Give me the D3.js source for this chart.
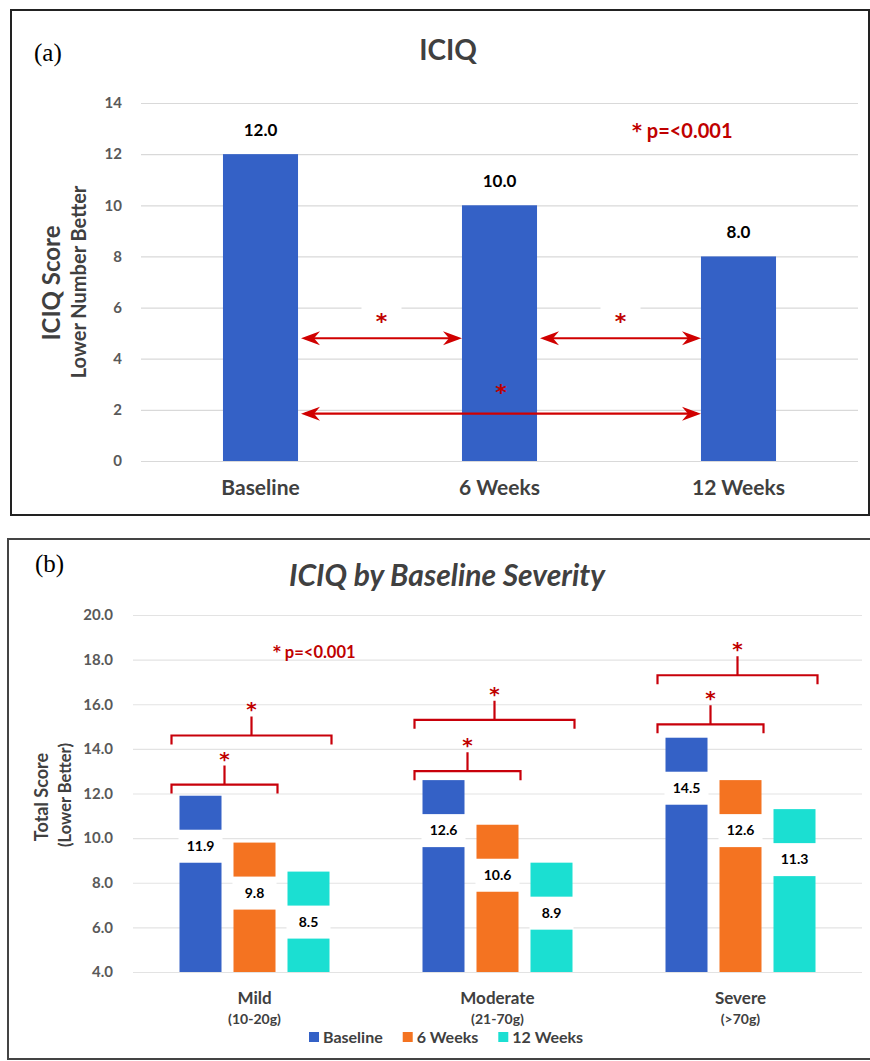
<!DOCTYPE html>
<html>
<head>
<meta charset="utf-8">
<script src="https://cdn.jsdelivr.net/npm/d3@7"></script>
<style>
  body { margin: 0; background: #fff; }
  text { font-family: Lato, "Open Sans", sans-serif; }
  .star { font-family: "DejaVu Sans", sans-serif; font-weight: bold; }
</style>
</head>
<body>
<div id="chart"></div>
<script>
// panel (a) data
const catsA = ["Baseline", "6 Weeks", "12 Weeks"]
const valsA = [12.0, 10.0, 8.0]
const ticksA = [0, 2, 4, 6, 8, 10, 12, 14]
const arrowsA = [
  {from: "Baseline", to: "6 Weeks", y: 4.8, star: 5.6},
  {from: "6 Weeks", to: "12 Weeks", y: 4.8, star: 5.6},
  {from: "Baseline", to: "12 Weeks", y: 1.85, star: 2.8}
]

// panel (b) data
const groupsB = ["Mild", "Moderate", "Severe"]
const rangesB = ["(10-20g)", "(21-70g)", "(>70g)"]
const seriesB = ["Baseline", "6 Weeks", "12 Weeks"]
const baselineB = [11.9, 12.6, 14.5]
const weeks6B = [9.8, 10.6, 12.6]
const weeks12B = [8.5, 8.9, 11.3]
const ticksB = [4, 6, 8, 10, 12, 14, 16, 18, 20]
const bracketsB = [
  {group: "Mild", to: "6 Weeks", y: 12.4},
  {group: "Mild", to: "12 Weeks", y: 14.6},
  {group: "Moderate", to: "6 Weeks", y: 13.0},
  {group: "Moderate", to: "12 Weeks", y: 15.3},
  {group: "Severe", to: "6 Weeks", y: 15.1},
  {group: "Severe", to: "12 Weeks", y: 17.3}
]
const colorsB = {"Baseline": "#3461c6", "6 Weeks": "#f47321", "12 Weeks": "#1bdfd2"}

const RED = "#c00000"
const GRID = "#d9d9d9"
const GRAY = "#404040"

let svg = d3.select("#chart").append("svg")
  .attr("width", 870)
  .attr("height", 1061)

// ---------- panel (a) ----------
let a = svg.append("g")

a.append("rect")
  .attr("x", 11).attr("y", 10).attr("width", 858).attr("height", 505)
  .attr("fill", "none").attr("stroke", "#222").attr("stroke-width", 2)

let xA = d3.scaleBand().domain(catsA).range([141, 858])
  .paddingInner(0.686).paddingOuter(0.343)
let yA = d3.scaleLinear().domain([0, 14]).range([461, 103])

a.append("g")
  .attr("transform", "translate(141,0)")
  .call(d3.axisLeft(yA).tickValues(ticksA).tickSize(-(858 - 141)).tickPadding(19))
  .call(g => g.select(".domain").remove())
  .call(g => g.selectAll(".tick line").attr("stroke", GRID).attr("stroke-width", 1.2))
  .call(g => g.selectAll(".tick text").attr("fill", "#595959")
    .style("font-size", "15px").style("font-weight", "bold"))

a.append("g")
  .attr("transform", "translate(0,461)")
  .call(d3.axisBottom(xA).tickSize(0).tickPadding(19))
  .call(g => g.select(".domain").remove())
  .call(g => g.selectAll(".tick text").attr("fill", GRAY)
    .style("font-size", "21px").style("font-weight", "bold"))

a.selectAll("rect.bar")
  .data(valsA)
  .enter().append("rect")
  .attr("class", "bar")
  .attr("x", (d, i) => xA(catsA[i]))
  .attr("y", d => yA(d))
  .attr("width", xA.bandwidth())
  .attr("height", d => yA(0) - yA(d))
  .attr("fill", "#3461c6")

a.selectAll("text.val")
  .data(valsA)
  .enter().append("text")
  .attr("class", "val")
  .attr("x", (d, i) => xA(catsA[i]) + xA.bandwidth() / 2)
  .attr("y", d => yA(d) - 18)
  .attr("text-anchor", "middle")
  .style("font-size", "17px").style("font-weight", "bold")
  .text(d => d.toFixed(1))

a.append("text")
  .attr("x", 448).attr("y", 60)
  .attr("text-anchor", "middle").attr("fill", GRAY)
  .style("font-size", "28px").style("font-weight", "bold")
  .text("ICIQ")

a.append("text")
  .attr("x", 34).attr("y", 61)
  .style("font-family", "'Liberation Serif', 'DejaVu Serif', serif")
  .style("font-size", "25px")
  .text("(a)")

let pA = a.append("text")
  .attr("x", 632).attr("y", 138)
  .attr("fill", RED)
  .style("font-size", "20px").style("font-weight", "bold")
pA.append("tspan").attr("class", "star").style("font-size", "19px").attr("dy", -1).text("*")
pA.append("tspan").attr("dy", 1).text(" p=<0.001")

a.append("text")
  .attr("transform", "translate(60,283) rotate(-90)")
  .attr("text-anchor", "middle").attr("fill", GRAY)
  .style("font-size", "24px").style("font-weight", "bold")
  .text("ICIQ Score")

a.append("text")
  .attr("transform", "translate(86,282) rotate(-90)")
  .attr("text-anchor", "middle").attr("fill", GRAY)
  .style("font-size", "20px").style("font-weight", "bold")
  .text("Lower Number Better")

// arrows
function head(x, y, dir) {
  return `M${x},${y} L${x + dir * 19},${y - 7} L${x + dir * 13},${y} L${x + dir * 19},${y + 7} Z`
}
let arr = a.selectAll("g.arrow")
  .data(arrowsA)
  .enter().append("g")
  .attr("class", "arrow")

arr.each(function(d) {
  let g = d3.select(this)
  let x0 = xA(d.from) + xA.bandwidth() + 3
  let x1 = xA(d.to)
  let y = yA(d.y)
  let sx = (x0 + x1) / 2
  if (!(d.from === "Baseline" && d.to === "12 Weeks")) {
    g.append("rect")
      .attr("x", sx - 20).attr("y", yA(d.star) - 14)
      .attr("width", 40).attr("height", 24).attr("fill", "#fff")
  }
  g.append("line")
    .attr("x1", x0 + 4).attr("x2", x1 - 4)
    .attr("y1", y).attr("y2", y)
    .attr("stroke", "#d00000").attr("stroke-width", 2.2)
  g.append("path").attr("d", head(x0, y, 1)).attr("fill", "#d00000")
  g.append("path").attr("d", head(x1, y, -1)).attr("fill", "#d00000")
  g.append("text")
    .attr("class", "star")
    .attr("x", sx).attr("y", yA(d.star) + 11)
    .attr("text-anchor", "middle").attr("fill", RED)
    .style("font-size", "22px")
    .text("*")
})

// ---------- panel (b) ----------
let b = svg.append("g")

b.append("rect")
  .attr("x", 8).attr("y", 539).attr("width", 870).attr("height", 520)
  .attr("fill", "none").attr("stroke", "#444").attr("stroke-width", 2)

let xB0 = d3.scaleBand().domain(groupsB).range([133, 862])
let xB1 = d3.scaleBand().domain(seriesB).range([0, 150]).paddingInner(12 / 54).paddingOuter(0)
let yB = d3.scaleLinear().domain([4, 20]).range([972, 615])
let groupX = g => xB0(g) + xB0.bandwidth() / 2 - 75

b.append("g")
  .attr("transform", "translate(133,0)")
  .call(d3.axisLeft(yB).tickValues(ticksB).tickFormat(d3.format(".1f"))
    .tickSize(-(862 - 133)).tickPadding(20))
  .call(g => g.select(".domain").remove())
  .call(g => g.selectAll(".tick line").attr("stroke", "#e3e3e3").attr("stroke-width", 1.2))
  .call(g => g.selectAll(".tick text").attr("fill", "#595959")
    .style("font-size", "15px").style("font-weight", "bold"))

b.append("g")
  .attr("transform", "translate(0,972)")
  .call(d3.axisBottom(xB0).tickSize(0).tickPadding(20))
  .call(g => g.select(".domain").remove())
  .call(g => g.selectAll(".tick text").attr("fill", GRAY)
    .style("font-size", "17px").style("font-weight", "bold"))

b.selectAll("text.range")
  .data(rangesB)
  .enter().append("text")
  .attr("class", "range")
  .attr("x", (d, i) => xB0(groupsB[i]) + xB0.bandwidth() / 2)
  .attr("y", 1024)
  .attr("text-anchor", "middle").attr("fill", GRAY)
  .style("font-size", "14px").style("font-weight", "bold")
  .text(d => d)

let tableB = []
groupsB.forEach((g, i) => {
  tableB.push({group: g, series: "Baseline", value: baselineB[i]})
  tableB.push({group: g, series: "6 Weeks", value: weeks6B[i]})
  tableB.push({group: g, series: "12 Weeks", value: weeks12B[i]})
})

b.selectAll("rect.barb")
  .data(tableB)
  .enter().append("rect")
  .attr("class", "barb")
  .attr("x", d => groupX(d.group) + xB1(d.series))
  .attr("y", d => yB(d.value))
  .attr("width", xB1.bandwidth())
  .attr("height", d => yB(4) - yB(d.value))
  .attr("fill", d => colorsB[d.series])

// white label boxes cutting the bars
b.selectAll("rect.lbl")
  .data(tableB)
  .enter().append("rect")
  .attr("class", "lbl")
  .attr("x", d => groupX(d.group) + xB1(d.series) - 1)
  .attr("y", d => yB(d.value) + 34)
  .attr("width", xB1.bandwidth() + 2)
  .attr("height", 33)
  .attr("fill", "#fff")

b.selectAll("text.valb")
  .data(tableB)
  .enter().append("text")
  .attr("class", "valb")
  .attr("x", d => groupX(d.group) + xB1(d.series) + xB1.bandwidth() / 2)
  .attr("y", d => yB(d.value) + 55)
  .attr("text-anchor", "middle")
  .style("font-size", "14px").style("font-weight", "bold")
  .text(d => d.value.toFixed(1))

// brackets
let br = b.selectAll("g.bracket")
  .data(bracketsB)
  .enter().append("g")
  .attr("class", "bracket")

br.each(function(d) {
  let g = d3.select(this)
  let x0 = groupX(d.group) + xB1("Baseline") - 8
  let x1 = groupX(d.group) + xB1(d.to) + xB1.bandwidth() + 2
  let y = yB(d.y)
  let mx = (x0 + x1) / 2
  g.append("path")
    .attr("d", `M${x0},${y + 9} V${y} H${x1} V${y + 9} M${mx},${y} V${y - 19}`)
    .attr("fill", "none").attr("stroke", "#c8000a").attr("stroke-width", 2.2)
  g.append("text")
    .attr("class", "star")
    .attr("x", mx).attr("y", y - 19)
    .attr("text-anchor", "middle").attr("fill", RED)
    .style("font-size", "20px")
    .text("*")
})

let pB = b.append("text")
  .attr("x", 273).attr("y", 658)
  .attr("fill", RED)
  .style("font-size", "16.5px").style("font-weight", "bold")
pB.append("tspan").attr("class", "star").style("font-size", "15px").attr("dy", -1).text("*")
pB.append("tspan").attr("dy", 1).text(" p=<0.001")

b.append("text")
  .attr("x", 447).attr("y", 586)
  .attr("text-anchor", "middle").attr("fill", GRAY)
  .style("font-size", "30px").style("font-style", "italic").style("font-weight", "bold")
  .text("ICIQ by Baseline Severity")

b.append("text")
  .attr("x", 35).attr("y", 572)
  .style("font-family", "'Liberation Serif', 'DejaVu Serif', serif")
  .style("font-size", "25px")
  .text("(b)")

b.append("text")
  .attr("transform", "translate(48,797) rotate(-90)")
  .attr("text-anchor", "middle").attr("fill", GRAY)
  .style("font-size", "18px").style("font-weight", "bold")
  .text("Total Score")

b.append("text")
  .attr("transform", "translate(71,795) rotate(-90)")
  .attr("text-anchor", "middle").attr("fill", GRAY)
  .style("font-size", "16.5px").style("font-weight", "bold")
  .text("(Lower Better)")

// legend
let lx = 309
seriesB.forEach(s => {
  b.append("rect")
    .attr("x", lx).attr("y", 1032).attr("width", 10).attr("height", 10)
    .attr("fill", colorsB[s])
  let t = b.append("text")
    .attr("x", lx + 14).attr("y", 1043)
    .attr("fill", GRAY)
    .style("font-size", "16px").style("font-weight", "bold")
    .text(s)
  lx += 14 + t.node().getComputedTextLength() + 20
})
</script>
</body>
</html>
